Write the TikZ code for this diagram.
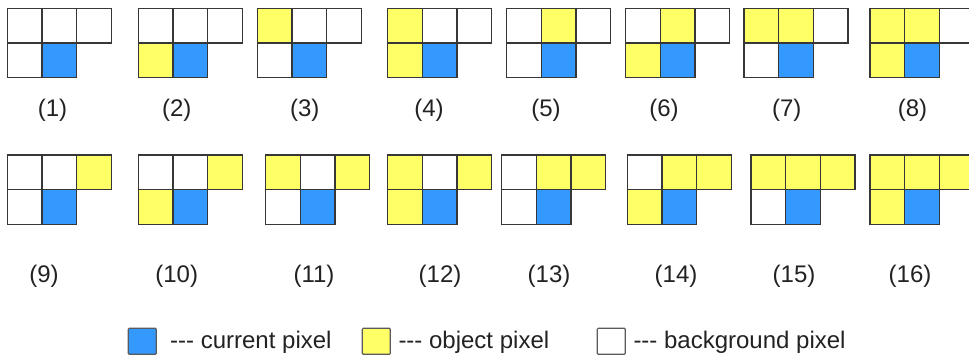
\documentclass[tikz,border=0pt]{standalone}
\usepackage{fontspec}
\setmainfont{Liberation Sans}
\definecolor{curblue}{RGB}{51,153,255}
\definecolor{objyellow}{RGB}{255,255,102}
\definecolor{gridline}{RGB}{55,55,55}
\definecolor{legline}{RGB}{90,90,90}
\definecolor{txt}{RGB}{34,34,34}
\newcommand{\tridash}{-\kern0pt-\kern0pt-}
\begin{document}
\begin{tikzpicture}[x=1pt,y=-1pt,
  cell/.style={draw=gridline, line width=1.3pt, minimum size=34.7pt, inner sep=0pt, outer sep=0pt, anchor=north west},
  lbl/.style={font=\fontsize{24}{28}\selectfont, text=txt, inner sep=0pt},
  legbox/.style={draw=legline, line width=1.2pt, rounded corners=1pt, minimum width=28pt, minimum height=26pt, inner sep=0pt, outer sep=0pt, anchor=north west},
  legtext/.style={font=\fontsize{24}{28}\selectfont, text=txt, inner sep=0pt, anchor=base west}]
\useasboundingbox (0,0) rectangle (969,363);
\foreach \n/\x/\y/\lx/\ly/\ca/\cb/\cc/\cd in {
  1/7.3/8.3/52.5/110/white/white/white/white,
  2/138.3/8.3/176.7/110/white/white/white/objyellow,
  3/257.3/8.3/304.7/110/objyellow/white/white/white,
  4/387.7/8.3/429/110/objyellow/white/white/objyellow,
  5/506.7/8.3/546/110/white/objyellow/white/white,
  6/625.7/8.3/664/110/white/objyellow/white/objyellow,
  7/744/8.3/786.7/110/objyellow/objyellow/white/white,
  8/870/8.3/912.5/110/objyellow/objyellow/white/objyellow,
  9/7.3/155/44/276/white/white/objyellow/white,
  10/138.3/155/176.7/276/white/white/objyellow/objyellow,
  11/265.7/155/314/276/objyellow/white/objyellow/white,
  12/387.7/155/440/276/objyellow/white/objyellow/objyellow,
  13/501.7/155/549/276/white/objyellow/objyellow/white,
  14/627.3/155/676/276/white/objyellow/objyellow/objyellow,
  15/751/155/794/276/objyellow/objyellow/objyellow/white,
  16/870/155/910/276/objyellow/objyellow/objyellow/objyellow}{
  \node[cell, fill=\ca] (p\n a) at (\x,\y) {};
  \node[cell, fill=\cb] (p\n b) at (\x+34.7,\y) {};
  \node[cell, fill=\cc] (p\n c) at (\x+69.4,\y) {};
  \node[cell, fill=\cd] (p\n d) at (\x,\y+34.7) {};
  \node[cell, fill=curblue] (p\n e) at (\x+34.7,\y+34.7) {};
  \node[lbl] (l\n) at (\lx,\ly) {(\n)};
}
\node[legbox, fill=curblue] (kb) at (128.3,328.3) {};
\node[legtext] (kbt) at (170,348.5) {\tridash{} current pixel};
\node[legbox, fill=objyellow] (ky) at (362.3,328.3) {};
\node[legtext] (kyt) at (398.3,348.5) {\tridash{} object pixel};
\node[legbox, fill=white] (kw) at (597.3,328.3) {};
\node[legtext] (kwt) at (633.3,348.5) {\tridash{} background pixel};
\end{tikzpicture}
\end{document}
